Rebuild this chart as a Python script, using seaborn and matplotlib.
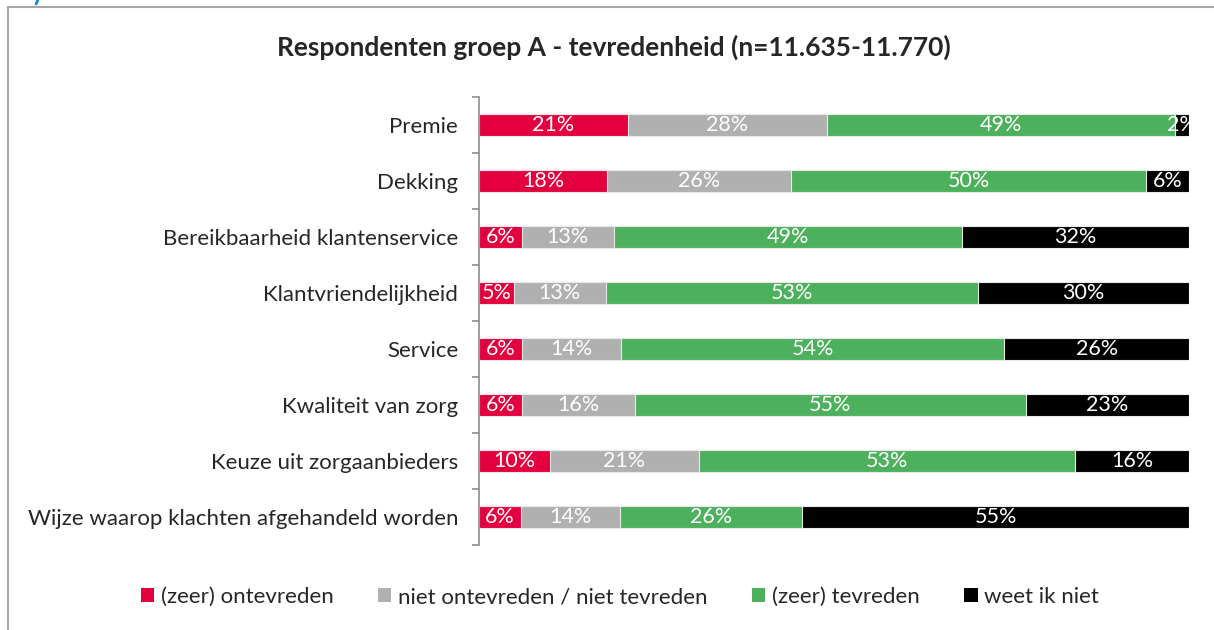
import numpy as np
import pandas as pd
import seaborn as sns
from matplotlib import pyplot as plt
from matplotlib.patches import Patch
from matplotlib.lines import Line2D

# data (percentages)
categories = ['Premie', 'Dekking', 'Bereikbaarheid klantenservice', 'Klantvriendelijkheid',
              'Service', 'Kwaliteit van zorg', 'Keuze uit zorgaanbieders',
              'Wijze waarop klachten afgehandeld worden']
ontevreden = [21, 18, 6, 5, 6, 6, 10, 6]
neutraal = [28, 26, 13, 13, 14, 16, 21, 14]
tevreden = [49, 50, 49, 53, 54, 55, 53, 26]
weet_niet = [2, 6, 32, 30, 26, 23, 16, 55]

series = ['(zeer) ontevreden', 'niet ontevreden / niet tevreden', '(zeer) tevreden', 'weet ik niet']
colors = ['#E4003F', '#B1B0B0', '#4DB05C', '#000000']

df = pd.DataFrame({series[0]: ontevreden, series[1]: neutraal,
                   series[2]: tevreden, series[3]: weet_niet}, index=categories)
# scale each row to a full bar (rounded labels may add up to 101)
shares = df.div(df.sum(axis=1), axis=0) * 100
cum = shares.cumsum(axis=1)

sns.set_style('white')
plt.rcParams['font.family'] = ['Lato', 'DejaVu Sans']

fig = plt.figure(figsize=(12.14, 6.3), dpi=100)
ax = fig.add_axes([479 / 1214, 1 - 545 / 630, 710 / 1214, 448 / 630])

# stacked bars: draw cumulative totals from the back to the front
for s, c in reversed(list(zip(series, colors))):
    sns.barplot(x=cum[s].values, y=categories, color=c, width=0.39, orient='h',
                saturation=1, edgecolor='#E8E8E8', linewidth=0.8, ax=ax)

# value labels in the middle of each segment
for i, cat in enumerate(categories):
    start = 0
    for s in series:
        w = shares.loc[cat, s]
        ax.text(start + w / 2, i, f'{df.loc[cat, s]}%', ha='center', va='center',
                color='white', fontsize=15.5)
        start += w

ax.set_xlim(0, 100)
ax.set_ylim(len(categories) - 0.5, -0.5)
ax.set_xticks([])
ax.set_xlabel('')
ax.set_ylabel('')
for side in ['top', 'right', 'bottom']:
    ax.spines[side].set_visible(False)
ax.spines['left'].set_color('#8C8C8C')
ax.spines['left'].set_linewidth(1.2)
ax.set_yticks(range(len(categories)))
ax.set_yticklabels(categories, fontsize=16)
ax.set_yticks(np.arange(-0.5, len(categories)), minor=True)
ax.tick_params(axis='y', which='major', left=False, length=0, pad=15)
ax.tick_params(axis='y', which='minor', left=True, length=5, width=1.2,
               color='#8C8C8C', direction='out')

fig.text(614 / 1214, 1 - 47 / 630, 'Respondenten groep A - tevredenheid (n=11.635-11.770)',
         ha='center', va='center', fontsize=19, fontweight='bold')

handles = [Patch(facecolor=c, edgecolor='none') for c in colors]
fig.legend(handles, series, loc='center', bbox_to_anchor=(620 / 1214, 1 - 597 / 630), ncol=4,
           frameon=False, fontsize=16, handlelength=0.6, handleheight=0.6,
           handletextpad=0.3, columnspacing=2.0)

# outer chart frame (left and top border)
fig.add_artist(Line2D([8 / 1214, 8 / 1214], [0, 1 - 7 / 630], transform=fig.transFigure,
                      color='#A6A6A6', linewidth=1.5))
fig.add_artist(Line2D([8 / 1214, 1], [1 - 7 / 630, 1 - 7 / 630], transform=fig.transFigure,
                      color='#A6A6A6', linewidth=1.5))
# small blue stroke at the top-left edge (cut off in the original)
fig.add_artist(Line2D([36 / 1214, 38 / 1214], [1 - 4 / 630, 1], transform=fig.transFigure,
                      color='#1F8AC0', linewidth=2))

fig.savefig('out.png', dpi=100)
